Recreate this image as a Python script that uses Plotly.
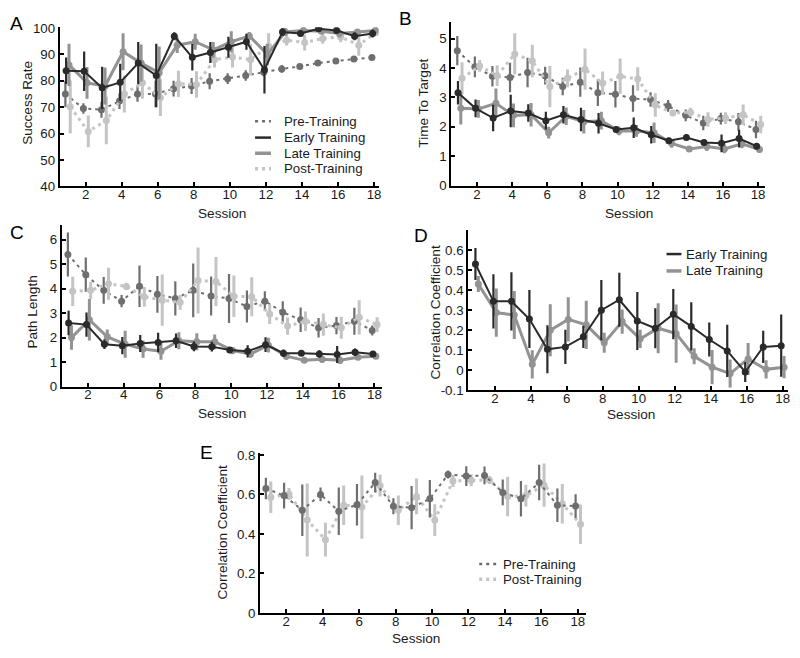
import plotly.graph_objects as go

sessions = list(range(1, 19))

# Panel A: Success Rate
a_pre = [75, 69.5, 69, 72.3, 75, 75, 77, 78, 79.8, 80.8, 82, 83.2, 84.5, 85.4, 86.7, 87.5, 88.2, 88.8]
a_pre_err = [5, 2, 3, 3, 3, 5, 3, 3, 3, 2, 2, 1.5, 1.5, 1, 1, 1, 1, 1]
a_early = [83.8, 83.6, 77.3, 79.4, 86.7, 82, 96.9, 88.9, 90.7, 92.7, 94.8, 84.2, 98.5, 97.9, 99.7, 99.1, 96.9, 97.9]
a_early_err = [5, 7.5, 8, 7, 8, 12, 1.5, 5, 4, 4, 3, 9, 1.5, 1, 0.5, 0.8, 1.5, 1.5]
a_late = [86, 79.2, 78, 91, 86.7, 83, 93.5, 94.8, 91.7, 94.8, 97, 90, 98.5, 99.1, 98.8, 97.9, 98.5, 99.1]
a_late_err = [8, 6, 7, 7, 7, 10, 3, 3, 3, 4, 1.5, 4, 1.5, 1, 1, 1.5, 1, 1]
a_post = [70.1, 60.8, 64.9, 75, 79.2, 73.6, 78.8, 78.6, 88, 89, 88, 93, 95.4, 94.5, 96, 96.6, 93.5, 98.5]
a_post_err = [10, 6, 9, 7, 6, 7, 5, 5, 3, 4, 6, 5, 2, 3, 2, 2, 4, 1.5]

# Panel B: Time To Target
b_pre = [4.59, 4.04, 3.72, 3.68, 3.85, 3.74, 3.37, 3.52, 3.16, 3.11, 2.96, 2.93, 2.71, 2.39, 2.13, 2.28, 2.17, 1.91]
b_pre_err = [0.5, 0.35, 0.35, 0.5, 0.5, 0.3, 0.3, 0.5, 0.45, 0.45, 0.45, 0.25, 0.2, 0.2, 0.25, 0.2, 0.3, 0.3]
b_early = [3.16, 2.63, 2.3, 2.54, 2.47, 2.21, 2.41, 2.25, 2.12, 1.91, 1.97, 1.73, 1.53, 1.64, 1.47, 1.44, 1.6, 1.34]
b_early_err = [0.4, 0.3, 0.45, 0.55, 0.3, 0.3, 0.3, 0.4, 0.35, 0.1, 0.35, 0.3, 0.1, 0.1, 0.1, 0.3, 0.3, 0.1]
b_late = [2.63, 2.61, 2.8, 2.39, 2.41, 1.8, 2.36, 2.17, 2.21, 1.86, 1.86, 1.8, 1.44, 1.25, 1.33, 1.25, 1.42, 1.23]
b_late_err = [0.55, 0.3, 0.5, 0.4, 0.4, 0.2, 0.3, 0.4, 0.3, 0.15, 0.2, 0.35, 0.15, 0.1, 0.15, 0.15, 0.15, 0.1]
b_post = [3.65, 4.07, 3.74, 4.48, 4.24, 3.37, 3.65, 3.96, 3.48, 3.72, 3.63, 2.74, 2.47, 2.5, 2.25, 2.3, 2.41, 2.08]
b_post_err = [0.55, 0.2, 0.35, 0.7, 0.55, 0.7, 0.3, 0.7, 0.4, 0.6, 0.4, 0.4, 0.1, 0.15, 0.25, 0.2, 0.35, 0.3]

# Panel C: Path Length
c_pre = [5.4, 4.57, 3.93, 3.49, 4.1, 3.77, 3.6, 3.93, 3.7, 3.6, 3.27, 3.49, 3.04, 2.73, 2.4, 2.49, 2.67, 2.29]
c_pre_err = [0.9, 0.7, 0.55, 0.25, 0.85, 0.75, 0.7, 1.1, 0.8, 1.0, 0.65, 0.4, 0.45, 0.5, 0.4, 0.35, 0.55, 0.2]
c_early = [2.6, 2.53, 1.73, 1.67, 1.76, 1.8, 1.87, 1.64, 1.63, 1.49, 1.44, 1.71, 1.36, 1.36, 1.33, 1.31, 1.4, 1.33]
c_early_err = [0.5, 0.5, 0.2, 0.35, 0.35, 0.4, 0.3, 0.2, 0.2, 0.1, 0.25, 0.3, 0.15, 0.1, 0.15, 0.35, 0.15, 0.1]
c_late = [2.0, 2.73, 2.03, 1.73, 1.53, 1.44, 1.87, 1.83, 1.83, 1.47, 1.33, 1.69, 1.24, 1.07, 1.11, 1.07, 1.2, 1.24]
c_late_err = [0.5, 0.85, 0.3, 0.55, 0.35, 0.35, 0.35, 0.35, 0.3, 0.15, 0.15, 0.3, 0.15, 0.1, 0.15, 0.15, 0.1, 0.1]
c_post = [3.89, 3.93, 4.2, 4.09, 3.67, 3.53, 3.44, 4.33, 4.29, 3.69, 3.67, 2.96, 2.47, 2.67, 2.53, 2.4, 2.83, 2.53]
c_post_err = [0.6, 0.35, 0.65, 0.15, 0.4, 1.05, 0.3, 1.35, 1.0, 0.85, 0.8, 0.4, 0.35, 0.4, 0.45, 0.45, 0.7, 0.3]

# Panel D: Correlation Coefficient (training)
d_early = [0.53, 0.344, 0.344, 0.256, 0.105, 0.117, 0.167, 0.3, 0.352, 0.246, 0.21, 0.28, 0.219, 0.154, 0.097, -0.008, 0.117, 0.123]
d_early_err = [0.08, 0.135, 0.145, 0.145, 0.12, 0.085, 0.055, 0.15, 0.135, 0.145, 0.1, 0.125, 0.12, 0.085, 0.13, 0.05, 0.08, 0.155]
d_late = [0.43, 0.288, 0.276, 0.03, 0.2, 0.254, 0.227, 0.138, 0.243, 0.157, 0.21, 0.183, 0.07, 0.016, -0.016, 0.057, 0.005, 0.016]
d_late_err = [0.04, 0.12, 0.12, 0.07, 0.13, 0.11, 0.12, 0.05, 0.06, 0.045, 0.125, 0.145, 0.04, 0.085, 0.07, 0.08, 0.045, 0.055]

# Panel E: Correlation Coefficient (pre/post)
e_pre = [0.63, 0.594, 0.52, 0.6, 0.515, 0.548, 0.66, 0.54, 0.533, 0.578, 0.701, 0.693, 0.696, 0.61, 0.578, 0.66, 0.545, 0.541]
e_pre_err = [0.055, 0.065, 0.13, 0.035, 0.12, 0.105, 0.05, 0.04, 0.11, 0.095, 0.02, 0.05, 0.045, 0.065, 0.09, 0.09, 0.085, 0.06]
e_post = [0.586, 0.602, 0.47, 0.371, 0.545, 0.536, 0.644, 0.52, 0.59, 0.47, 0.668, 0.672, 0.673, 0.589, 0.594, 0.647, 0.553, 0.449]
e_post_err = [0.08, 0.03, 0.185, 0.085, 0.1, 0.16, 0.055, 0.075, 0.09, 0.08, 0.03, 0.03, 0.02, 0.1, 0.055, 0.11, 0.1, 0.1]

x_tickvals = [2, 4, 6, 8, 10, 12, 14, 16, 18]
a_ticks = [40, 50, 60, 70, 80, 90, 100]
b_ticks = [0, 1, 2, 3, 4, 5]
c_ticks = [0, 1, 2, 3, 4, 5, 6]
d_ticks = [-0.1, 0, 0.1, 0.2, 0.3, 0.4, 0.5, 0.6]
d_ticktext = ["-0.1", "0", "0.1", "0.2", "0.3", "0.4", "0.5", "0.6"]
e_ticks = [0, 0.2, 0.4, 0.6, 0.8]
e_ticktext = ["0", "0.2", "0.4", "0.6", "0.8"]

FONT = "Arial, Liberation Sans, sans-serif"
TXT = "#1a1a1a"
# the page body has an 8px margin; lay out in page pixels and shift
OFF = 8
W, H = 800 - OFF, 658 - OFF


def fx(p):
    return (p - OFF) / W


def fy(p):
    return 1 - (p - OFF) / H


STY = {
    "Pre-Training": dict(color="#6e6e6e", width=2, dash="3px,4px", off=-0.12, ew=2.2, ms=7),
    "Early Training": dict(color="#2a2a2a", width=2, dash="solid", off=-0.08, ew=2.2, ms=7),
    "Late Training": dict(color="#939393", width=3, dash="solid", off=0.08, ew=3, ms=7),
    "Post-Training": dict(color="#c4c4c4", width=3, dash="3px,4px", off=0.15, ew=3, ms=7),
}

fig = go.Figure()

panels = {
    # key: (axis suffix, pixel box (x0,x1,y0,y1), x range, y range, y ticks, y ticktext,
    #       y title, y-title centre (x,y), x-title centre (x,y))
    "A": ("", (60, 380, 20.5, 183.3), [0.57, 18.25], [40, 100.3], a_ticks, None,
          "Success Rate", (28, 98), (222.5, 210.7)),
    "B": ("2", (453, 768, 15, 182.7), [0.54, 18.4], [0, 5.57], b_ticks, None,
          "Time To Target", (425, 98.3), (631.7, 210.7)),
    "C": ("3", (62, 383, 223, 388.3), [0.54, 18.4], [0, 6.6], c_ticks, None,
          "Path Length", (33, 311.7), (223.3, 416)),
    "D": ("4", (470, 791, 228, 392.3), [0.52, 18.3], [-0.1, 0.7], d_ticks, d_ticktext,
          "Correlation Coefficient", (436.7, 312.5), (633, 416.7)),
    "E": ("5", (261, 588, 456.7, 620), [0.56, 18.44], [0, 0.808], e_ticks, e_ticktext,
          "Correlation Coefficient", (223, 537.5), (417.3, 646.7)),
}

series = {
    "A": [("Pre-Training", a_pre, a_pre_err), ("Post-Training", a_post, a_post_err),
          ("Late Training", a_late, a_late_err), ("Early Training", a_early, a_early_err)],
    "B": [("Pre-Training", b_pre, b_pre_err), ("Post-Training", b_post, b_post_err),
          ("Late Training", b_late, b_late_err), ("Early Training", b_early, b_early_err)],
    "C": [("Pre-Training", c_pre, c_pre_err), ("Post-Training", c_post, c_post_err),
          ("Late Training", c_late, c_late_err), ("Early Training", c_early, c_early_err)],
    "D": [("Late Training", d_late, d_late_err), ("Early Training", d_early, d_early_err)],
    "E": [("Post-Training", e_post, e_post_err), ("Pre-Training", e_pre, e_pre_err)],
}

layout = dict(
    width=W, height=H, margin=dict(l=0, r=0, t=0, b=0),
    paper_bgcolor="white", plot_bgcolor="white",
    font=dict(family=FONT, size=13, color=TXT),
    showlegend=False,
)

annotations = []
shapes = []

for key, (suf, box, xr, yr, yt, ytt, ytitle, ytc, xtc) in panels.items():
    x0, x1, y0, y1 = box
    xd = [fx(x0), fx(x1)]
    yd = [fy(y1), fy(y0)]
    xa, ya = "x" + suf, "y" + suf
    axis_common = dict(
        showline=True, linecolor="black", linewidth=2, ticks="inside", ticklen=4,
        tickwidth=1.5, tickcolor="black", showgrid=False, zeroline=False,
        tickfont=dict(size=13.3, family=FONT, color=TXT),
    )
    layout["xaxis" + suf] = dict(domain=xd, range=xr, anchor=ya, tickvals=x_tickvals,
                                 ticklabelstandoff=-5, **axis_common)
    yax = dict(domain=yd, range=yr, anchor=xa, tickvals=yt, **axis_common)
    if ytt is not None:
        yax["ticktext"] = ytt
    layout["yaxis" + suf] = yax

    annotations.append(dict(text=ytitle, x=fx(ytc[0]), y=fy(ytc[1]), xref="paper", yref="paper",
                            xanchor="center", yanchor="middle", textangle=-90, showarrow=False,
                            font=dict(size=13.6, family=FONT, color=TXT)))
    annotations.append(dict(text="Session", x=fx(xtc[0]), y=fy(xtc[1]), xref="paper", yref="paper",
                            xanchor="center", yanchor="middle", showarrow=False,
                            font=dict(size=13.6, family=FONT, color=TXT)))

    for name, vals, errs in series[key]:
        s = STY[name]
        xs = [v + s["off"] for v in sessions]
        fig.add_trace(go.Scatter(
            x=xs, y=vals, mode="lines+markers", name=name, xaxis=xa, yaxis=ya,
            line=dict(color=s["color"], width=s["width"], dash=s["dash"]),
            marker=dict(color=s["color"], size=s["ms"]),
            error_y=dict(type="data", array=errs, visible=True, color=s["color"],
                         thickness=s["ew"], width=0),
            showlegend=False,
        ))

# hand-drawn legends (short line samples, tight rows as in the figure)
legends = [
    # (line x0, line x1, text x, [(name, row y), ...])
    (256, 272, 283, [("Pre-Training", 116.7), ("Early Training", 133.5),
                     ("Late Training", 149.5), ("Post-Training", 165.5)]),
    (669, 684, 687, [("Early Training", 252.7), ("Late Training", 270)]),
    (481, 498, 503, [("Pre-Training", 570), ("Post-Training", 585.7)]),
]
for lx0, lx1, tx, rows in legends:
    for name, ry in rows:
        s = STY[name]
        shapes.append(dict(type="line", xref="paper", yref="paper",
                           x0=fx(lx0), x1=fx(lx1), y0=fy(ry), y1=fy(ry),
                           line=dict(color=s["color"], width=s["width"] + 0.5,
                                     dash=s["dash"])))
        annotations.append(dict(text=name, x=fx(tx), y=fy(ry), xref="paper", yref="paper",
                                xanchor="left", yanchor="middle", showarrow=False,
                                font=dict(size=13.3, family=FONT, color=TXT)))

# panel letters: (text, left x, centre y) in page pixels
letters = [("A", 8, 16.5), ("B", 398, 11.5), ("C", 8, 231), ("D", 414, 234), ("E", 199, 456)]
for t, x, y in letters:
    annotations.append(dict(text=t, x=fx(x), y=fy(y), xref="paper", yref="paper",
                            xanchor="left", yanchor="middle", showarrow=False,
                            font=dict(size=19, family=FONT, color="black")))

layout["shapes"] = shapes
layout["annotations"] = annotations

fig.update_layout(**layout)
fig.write_html("out.html")
